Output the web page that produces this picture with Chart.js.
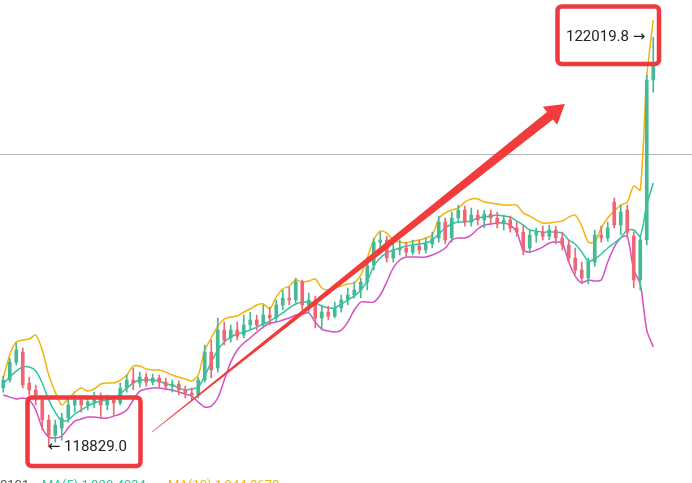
<!DOCTYPE html>
<html>
<head>
<meta charset="utf-8">
<script src="https://cdn.jsdelivr.net/npm/chart.js@4.4.1/dist/chart.umd.min.js"></script>
<style>
    html, body { margin: 0; padding: 0; background: #fff; }
    #wrap { width: 692px; height: 483px; position: relative; overflow: hidden; }
</style>
</head>
<body>
<div id="wrap"><canvas id="klineChart"></canvas></div>
<script>
// candle data (price)
const opens = [
    119284, 119346, 119486, 119564, 119323, 119268, 119190, 119034, 118917, 118972,
    119050, 119151, 119190, 119151, 119174, 119206, 119151, 119190, 119167, 119284,
    119346, 119323, 119369, 119330, 119362, 119330, 119299, 119315, 119268, 119245,
    119229, 119346, 119564, 119440, 119736, 119674, 119736, 119697, 119775, 119814,
    119783, 119853, 119830, 119931, 119986, 119970, 120110, 119931, 119970, 119830,
    119876, 119845, 119908, 119970, 120009, 120048, 120110, 120243, 120422, 120438,
    120298, 120360, 120376, 120344, 120391, 120360, 120407, 120454, 120578, 120454,
    120610, 120672, 120578, 120633, 120594, 120641, 120610, 120563, 120594, 120532,
    120500, 120376, 120477, 120500, 120469, 120516, 120454, 120399, 120298, 120204,
    120142, 120266, 120477, 120454, 120734, 120555, 120672, 120469, 120126, 120438,
    121686
];
const highs = [
    119377, 119518, 119635, 119596, 119369, 119307, 119213, 119073, 119034, 119089,
    119206, 119229, 119221, 119221, 119252, 119245, 119229, 119221, 119323, 119385,
    119440, 119408, 119401, 119393, 119385, 119362, 119346, 119338, 119299, 119284,
    119369, 119619, 119658, 119830, 119798, 119775, 119798, 119853, 119876, 119853,
    119931, 119915, 119970, 120048, 120071, 120142, 120126, 120025, 120001, 119931,
    119923, 119954, 120009, 120064, 120110, 120142, 120298, 120454, 120500, 120469,
    120415, 120438, 120422, 120438, 120438, 120454, 120500, 120625, 120610, 120656,
    120711, 120703, 120688, 120672, 120672, 120672, 120656, 120633, 120625, 120578,
    120555, 120516, 120532, 120547, 120555, 120547, 120500, 120438, 120376, 120266,
    120298, 120516, 120547, 120578, 120766, 120711, 120711, 120500, 120469, 121725,
    122019.8
];
const lows = [
    119252, 119330, 119463, 119284, 119229, 119151, 118956, 118829, 118862, 118878,
    119018, 119096, 119096, 119112, 119128, 119050, 119112, 119073, 119151, 119252,
    119268, 119291, 119299, 119307, 119291, 119268, 119252, 119229, 119206, 119190,
    119206, 119330, 119362, 119408, 119619, 119642, 119658, 119674, 119736, 119736,
    119752, 119775, 119798, 119892, 119931, 119947, 119892, 119876, 119752, 119736,
    119814, 119830, 119876, 119931, 119986, 119986, 120048, 120204, 120360, 120266,
    120266, 120321, 120313, 120321, 120329, 120337, 120376, 120422, 120407, 120422,
    120578, 120547, 120547, 120555, 120532, 120563, 120532, 120516, 120500, 120469,
    120321, 120344, 120422, 120438, 120438, 120407, 120360, 120266, 120173, 120103,
    120095, 120235, 120422, 120430, 120532, 120477, 120454, 120064, 120048, 120399,
    121592
];
const closes = [
    119346, 119486, 119580, 119307, 119268, 119206, 119034, 118917, 118995, 119050,
    119151, 119190, 119151, 119174, 119206, 119151, 119190, 119167, 119284, 119346,
    119323, 119369, 119330, 119362, 119330, 119299, 119315, 119268, 119245, 119229,
    119346, 119564, 119424, 119736, 119658, 119736, 119689, 119775, 119814, 119775,
    119853, 119830, 119931, 119986, 119970, 120110, 119931, 119970, 119830, 119876,
    119845, 119908, 119970, 120009, 120048, 120110, 120243, 120422, 120438, 120298,
    120360, 120376, 120344, 120391, 120360, 120407, 120454, 120578, 120438, 120610,
    120672, 120578, 120633, 120594, 120641, 120610, 120563, 120594, 120532, 120500,
    120360, 120477, 120500, 120469, 120516, 120454, 120399, 120298, 120204, 120142,
    120266, 120477, 120454, 120532, 120555, 120656, 120500, 120126, 120438, 121686,
    121803
];

// bollinger bands
const bandUpper = [
    119362, 119541, 119642, 119658, 119666, 119697, 119580, 119385, 119252, 119151,
    119198, 119252, 119284, 119260, 119276, 119315, 119323, 119323, 119346, 119385,
    119455, 119455, 119432, 119424, 119424, 119408, 119385, 119369, 119354, 119338,
    119385, 119580, 119674, 119767, 119822, 119837, 119845, 119876, 119900, 119931,
    119939, 119900, 119993, 120056, 120079, 120126, 120110, 120118, 120134, 120064,
    120048, 120064, 120079, 120095, 120103, 120165, 120298, 120438, 120508, 120493,
    120438, 120422, 120415, 120430, 120438, 120454, 120477, 120602, 120649, 120672,
    120688, 120734, 120758, 120758, 120734, 120727, 120719, 120711, 120711, 120711,
    120649, 120625, 120594, 120571, 120571, 120578, 120586, 120617, 120633, 120547,
    120422, 120422, 120532, 120610, 120664, 120711, 120734, 120859, 120828, 121709,
    122154
];
const bandMiddle = [
    119315, 119369, 119416, 119447, 119447, 119416, 119323, 119190, 119096, 119026,
    119034, 119081, 119112, 119143, 119167, 119182, 119190, 119206, 119237, 119284,
    119323, 119346, 119346, 119346, 119338, 119315, 119307, 119284, 119268, 119276,
    119291, 119377, 119486, 119580, 119642, 119681, 119705, 119720, 119736, 119759,
    119783, 119806, 119837, 119869, 119908, 119939, 119954, 119954, 119947, 119923,
    119908, 119908, 119939, 119970, 120001, 120048, 120118, 120235, 120298, 120337,
    120360, 120376, 120391, 120399, 120407, 120415, 120438, 120485, 120532, 120563,
    120578, 120578, 120586, 120610, 120617, 120625, 120633, 120625, 120617, 120586,
    120555, 120516, 120508, 120500, 120500, 120500, 120493, 120438, 120407, 120344,
    120274, 120290, 120329, 120376, 120415, 120454, 120516, 120516, 120469, 120711,
    120883
];
const bandLower = [
    119229, 119213, 119198, 119206, 119190, 119112, 118972, 118901, 118894, 118909,
    118972, 119026, 119042, 119057, 119057, 119050, 119050, 119065, 119081, 119112,
    119190, 119260, 119276, 119284, 119284, 119276, 119268, 119252, 119237, 119221,
    119174, 119135, 119143, 119206, 119346, 119486, 119580, 119635, 119674, 119720,
    119759, 119791, 119798, 119814, 119830, 119853, 119861, 119869, 119798, 119744,
    119728, 119720, 119736, 119798, 119892, 119954, 119954, 119954, 120009, 120110,
    120220, 120282, 120305, 120305, 120305, 120305, 120321, 120344, 120376, 120438,
    120454, 120454, 120477, 120524, 120555, 120563, 120571, 120571, 120555, 120500,
    120360, 120344, 120360, 120383, 120415, 120422, 120415, 120266, 120157, 120103,
    120126, 120118, 120126, 120266, 120383, 120454, 120469, 120204, 120095, 119736,
    119603
];

const priceMin = 118543;
const priceMax = 122310;
const refPrice = 121109;
const lowLabel = "118829.0";
const highLabel = "122019.8";
const maTexts = ["0101", "MA(5) 1,920.4934", "MA(10) 1,944.8678"];

// big arrow, in data coordinates (candle index, price)
const arrowFrom = { x: 22.9, y: 118940 };
const arrowTo = { x: 86.4, y: 121499 };

const upColor = "#45b894";
const downColor = "#ec6674";
const labels = opens.map((_, i) => i);
const candleColors = opens.map((o, i) => (closes[i] >= o ? upColor : downColor));

const overlay = {
    id: "overlay",
    beforeDatasetsDraw(chart) {
        const { ctx } = chart;
        const y = chart.scales.y.getPixelForValue(refPrice);
        ctx.save();
        ctx.strokeStyle = "#b4b4b4";
        ctx.lineWidth = 1;
        ctx.beginPath();
        ctx.moveTo(0, Math.round(y) + 0.5);
        ctx.lineTo(chart.width, Math.round(y) + 0.5);
        ctx.stroke();
        ctx.restore();
    },
    afterDraw(chart) {
        const { ctx } = chart;
        const xs = chart.scales.x;
        const ys = chart.scales.y;

        // arrow
        const sx = xs.getPixelForValue(arrowFrom.x), sy = ys.getPixelForValue(arrowFrom.y);
        const tx = xs.getPixelForValue(arrowTo.x), ty = ys.getPixelForValue(arrowTo.y);
        const len = Math.hypot(tx - sx, ty - sy);
        const ux = (tx - sx) / len, uy = (ty - sy) / len;
        const nx = -uy, ny = ux;
        const headLen = 19, headHalf = 11.5, shaftHalf = 4.8, tailHalf = 0.3;
        const bx = tx - ux * headLen, by = ty - uy * headLen;
        ctx.save();
        ctx.fillStyle = "#f23b3b";
        ctx.beginPath();
        ctx.moveTo(sx + nx * tailHalf, sy + ny * tailHalf);
        ctx.lineTo(bx + nx * shaftHalf, by + ny * shaftHalf);
        ctx.lineTo(bx + nx * headHalf, by + ny * headHalf);
        ctx.lineTo(tx, ty);
        ctx.lineTo(bx - nx * headHalf, by - ny * headHalf);
        ctx.lineTo(bx - nx * shaftHalf, by - ny * shaftHalf);
        ctx.lineTo(sx - nx * tailHalf, sy - ny * tailHalf);
        ctx.closePath();
        ctx.fill();

        // red boxes
        ctx.strokeStyle = "#ee3a3f";
        ctx.lineWidth = 4.5;
        ctx.beginPath();
        ctx.roundRect(27.5, 397.5, 113, 68.5, 4);
        ctx.stroke();
        ctx.beginPath();
        ctx.roundRect(557.5, 6.5, 101.5, 57.5, 4);
        ctx.stroke();

        // low / high labels
        const lowIdx = lows.indexOf(Math.min(...lows));
        const highIdx = highs.indexOf(Math.max(...highs));
        ctx.fillStyle = "#222";
        ctx.textBaseline = "middle";
        ctx.font = "15px Roboto, 'DejaVu Sans', sans-serif";
        ctx.textAlign = "left";
        const lx = xs.getPixelForValue(lowIdx), ly = ys.getPixelForValue(lows[lowIdx]);
        ctx.fillText("\u2190 " + lowLabel, lx - 1, ly + 1);
        ctx.textAlign = "right";
        const hx = xs.getPixelForValue(highIdx), hy = ys.getPixelForValue(highs[highIdx]);
        ctx.fillText(highLabel + " \u2192", hx - 8, hy);

        // MA readout cut off at the bottom
        ctx.textAlign = "left";
        ctx.textBaseline = "top";
        ctx.font = "13px Roboto, sans-serif";
        ctx.fillStyle = "#555";
        ctx.fillText(maTexts[0], 0, 479);
        ctx.fillStyle = "#2fc4a3";
        ctx.fillText(maTexts[1], 42, 479);
        ctx.fillStyle = "#f2b705";
        ctx.fillText(maTexts[2], 168, 479);
        ctx.restore();
    }
};

const lineDataset = (label, data, color) => ({
    type: "line",
    label,
    data,
    borderColor: color,
    borderWidth: 1.5,
    pointRadius: 0,
    tension: 0.25,
    order: 3
});

new Chart(document.getElementById("klineChart"), {
    type: "bar",
    data: {
        labels,
        datasets: [
            {
                label: "wick",
                data: lows.map((l, i) => [l, highs[i]]),
                backgroundColor: candleColors,
                barThickness: 1,
                grouped: false,
                order: 2
            },
            {
                label: "body",
                data: opens.map((o, i) => [o, closes[i]]),
                backgroundColor: candleColors,
                barThickness: 3,
                minBarLength: 1,
                grouped: false,
                order: 1
            },
            lineDataset("UB", bandUpper, "#f4b30b"),
            lineDataset("MB", bandMiddle, "#2ec4a2"),
            lineDataset("LB", bandLower, "#d64fc4")
        ]
    },
    options: {
        responsive: true,
        maintainAspectRatio: false,
        animation: false,
        layout: { padding: { left: 0, right: 35.5, top: 0, bottom: 0 } },
        scales: {
            x: { display: false, offset: true },
            y: { display: false, min: priceMin, max: priceMax }
        },
        plugins: {
            legend: { display: false },
            tooltip: { enabled: false }
        }
    },
    plugins: [overlay]
});
</script>
</body>
</html>
